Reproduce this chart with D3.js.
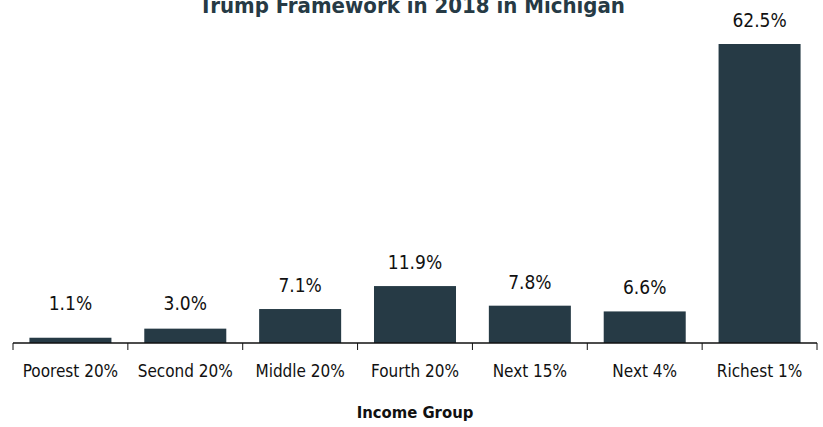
<!DOCTYPE html>
<html>
<head>
<meta charset="utf-8">
<script src="https://cdn.jsdelivr.net/npm/d3@7"></script>
<style>
  body { margin: 0; background: #fff; }
  svg { display: block; }
  text { font-family: "DejaVu Sans Condensed", "Liberation Sans Narrow", sans-serif; }
</style>
</head>
<body>
<div id="chart"></div>
<script>
// Share of tax cut by income group
const groups = ['Poorest 20%', 'Second 20%', 'Middle 20%', 'Fourth 20%', 'Next 15%', 'Next 4%', 'Richest 1%'];
const shares = [1.1, 3.0, 7.1, 11.9, 7.8, 6.6, 62.5];
const shareLabels = ['1.1%', '3.0%', '7.1%', '11.9%', '7.8%', '6.6%', '62.5%'];

const W = 823, H = 427;
const barColor = '#263a45';
const axisY = 343;

const svg = d3.select('#chart').append('svg')
    .attr('width', W)
    .attr('height', H);

const x = d3.scaleBand()
    .domain(groups)
    .range([13, 817])
    .paddingInner(0.286)
    .paddingOuter(0.143);

const y = d3.scaleLinear()
    .domain([0, 62.5])
    .range([axisY, 44]);

const rows = groups.map((g, i) => ({ group: g, value: shares[i], label: shareLabels[i] }));

// Title (cut off at the top edge, as in the original)
svg.append('text')
    .attr('x', 412)
    .attr('y', 13)
    .attr('text-anchor', 'middle')
    .style('font-size', '22px')
    .style('font-weight', '700')
    .style('fill', barColor)
    .text('Trump Framework in 2018 in Michigan');

// Bars
svg.selectAll('.bar')
    .data(rows)
    .enter()
    .append('rect')
    .attr('class', 'bar')
    .attr('x', d => x(d.group))
    .attr('width', x.bandwidth())
    .attr('y', d => y(d.value))
    .attr('height', d => axisY - y(d.value))
    .attr('fill', barColor);

// Value labels
svg.selectAll('.value-label')
    .data(rows)
    .enter()
    .append('text')
    .attr('class', 'value-label')
    .attr('x', d => x(d.group) + x.bandwidth() / 2)
    .attr('y', d => Math.min(y(d.value) - 17, 310))
    .attr('text-anchor', 'middle')
    .style('font-size', '19px')
    .style('fill', '#111')
    .text(d => d.label);

// X axis: labels centred, ticks on category boundaries
const axis = svg.append('g')
    .attr('transform', `translate(0,${axisY})`)
    .call(d3.axisBottom(x).tickSize(0).tickPadding(22));

axis.select('.domain').remove();
axis.selectAll('text')
    .attr('font-family', null)
    .style('font-size', '17px')
    .style('fill', '#111');

const half = (x.step() - x.bandwidth()) / 2;
const bounds = groups.map(g => x(g) - half).concat([x(groups[groups.length - 1]) + x.bandwidth() + half]);

axis.append('line')
    .attr('x1', bounds[0])
    .attr('x2', bounds[bounds.length - 1])
    .attr('stroke', '#111')
    .attr('stroke-width', 1.5);

axis.selectAll('.bound-tick')
    .data(bounds)
    .enter()
    .append('line')
    .attr('class', 'bound-tick')
    .attr('x1', d => d)
    .attr('x2', d => d)
    .attr('y1', 0)
    .attr('y2', 7)
    .attr('stroke', '#111')
    .attr('stroke-width', 1);

// Axis title
svg.append('text')
    .attr('x', 415)
    .attr('y', 418)
    .attr('text-anchor', 'middle')
    .style('font-size', '16.5px')
    .style('font-weight', '700')
    .style('fill', '#111')
    .text('Income Group');
</script>
</body>
</html>
